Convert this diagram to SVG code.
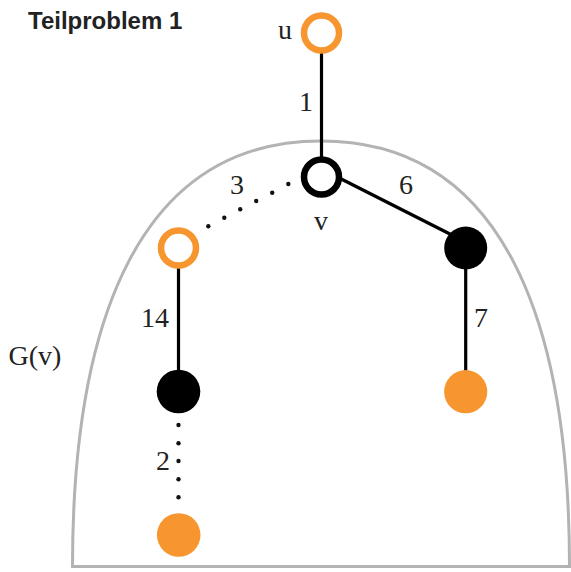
<svg xmlns="http://www.w3.org/2000/svg" width="571" height="572" viewBox="0 0 571 572">
<style>
.lbl{font-family:"Liberation Serif","DejaVu Serif",serif;font-size:28px;fill:#222;text-anchor:middle}
.title{font-family:"Liberation Sans",Arial,sans-serif;font-size:24px;font-weight:bold;fill:#222}
.edge{stroke:#000;stroke-width:3.2;fill:none}
.dot{fill:#111}
.ring-o{fill:#fff;stroke:#f7962f;stroke-width:6.5}
.ring-b{fill:#fff;stroke:#000;stroke-width:6.5}
.fill-b{fill:#000}
.fill-o{fill:#f7962f}
</style>
<rect width="571" height="572" fill="#fff"/>
<g id="region">
<path d="M72.5 566.5 C72.5 317.5 141 141 321 141 C501 141 569.5 317.5 569.5 566.5 Z" fill="none" stroke="#b3b3b3" stroke-width="3"/>
<text class="lbl" x="35" y="365">G(v)</text>
</g>
<text class="title" x="28" y="29">Teilproblem 1</text>
<g id="connectors">
<line class="edge" x1="321.5" y1="50" x2="321.5" y2="158"/>
<line class="edge" x1="321.5" y1="169" x2="465.7" y2="242"/>
<line class="edge" x1="178.5" y1="266" x2="178.5" y2="391"/>
<line class="edge" x1="465.7" y1="248" x2="465.7" y2="391"/>
<g class="dot">
<circle cx="288.3" cy="184" r="2.2"/>
<circle cx="272.2" cy="192.7" r="2.2"/>
<circle cx="256.2" cy="201" r="2.2"/>
<circle cx="240.2" cy="209.3" r="2.2"/>
<circle cx="224.3" cy="217.7" r="2.2"/>
<circle cx="208.3" cy="226.3" r="2.2"/>
<circle cx="178.5" cy="425" r="2.2"/>
<circle cx="178.5" cy="443.3" r="2.2"/>
<circle cx="178.5" cy="461" r="2.2"/>
<circle cx="178.5" cy="479.3" r="2.2"/>
<circle cx="178.5" cy="497.3" r="2.2"/>
</g>
<text class="lbl" x="306" y="111">1</text>
<text class="lbl" x="237" y="194">3</text>
<text class="lbl" x="406" y="194">6</text>
<text class="lbl" x="155" y="327">14</text>
<text class="lbl" x="481" y="327">7</text>
<text class="lbl" x="163" y="470">2</text>
</g>
<g id="node-u">
<circle class="ring-o" cx="321.5" cy="33" r="17.5"/>
<text class="lbl" x="285" y="39">u</text>
</g>
<g id="node-v">
<circle class="ring-b" cx="321.5" cy="177" r="17.5"/>
<text class="lbl" x="321" y="230">v</text>
</g>
<g id="node-a">
<circle class="ring-o" cx="178.5" cy="248" r="17.5"/>
</g>
<g id="node-b">
<circle class="fill-b" cx="465.7" cy="248" r="21.5"/>
</g>
<g id="node-c">
<circle class="fill-b" cx="178.5" cy="391.5" r="21.8"/>
</g>
<g id="node-d">
<circle class="fill-o" cx="465.7" cy="391.7" r="21.6"/>
</g>
<g id="node-e">
<circle class="fill-o" cx="178.7" cy="535" r="21.8"/>
</g>
</svg>
